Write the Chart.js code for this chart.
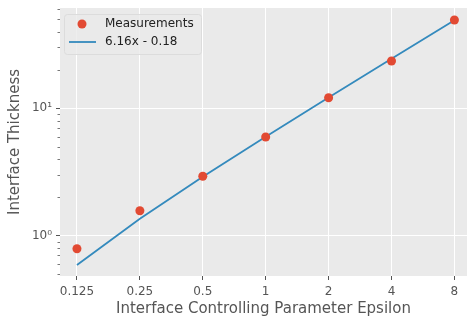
<!DOCTYPE html>
<html>
<head>
<meta charset="utf-8">
<script src="https://cdn.jsdelivr.net/npm/chart.js@4/dist/chart.umd.min.js"></script>
<style>
  html, body { margin: 0; padding: 0; background: #fff; }
  #wrap { width: 467px; height: 321px; }
</style>
</head>
<body>
<div id="wrap"><canvas id="c" width="467" height="321"></canvas></div>
<script>
// Epsilon values (x) and measured interface thickness (y)
const epsilon = [0.125, 0.25, 0.5, 1, 2, 4, 8];
const thickness = [0.79, 1.57, 2.93, 5.95, 12.1, 23.5, 49.3];
// Linear fit 6.16x - 0.18 evaluated at each epsilon
const fitValues = [0.59, 1.36, 2.90, 5.98, 12.14, 24.46, 49.10];
const fitLabel = '6.16x - 0.18';
const xTickValues = [0.125, 0.25, 0.5, 1, 2, 4, 8];
const xTickLabels = ['0.125', '0.25', '0.5', '1', '2', '4', '8'];
const yMajorValues = [1, 10];
const yMajorLabels = ['10\u2070', '10\u00b9'];
const yMinorValues = [0.5, 0.6, 0.7, 0.8, 0.9, 2, 3, 4, 5, 6, 7, 8, 9, 20, 30, 40, 50, 60];

const RED = '#E24A33';
const BLUE = '#348ABD';
const FONT = 'DejaVu Sans';

const panelBg = {
  id: 'panelBg',
  beforeDraw(chart) {
    const { ctx, chartArea: a } = chart;
    ctx.save();
    ctx.fillStyle = '#EAEAEA';
    ctx.fillRect(a.left, a.top, a.right - a.left, a.bottom - a.top);
    ctx.restore();
  }
};

// short minor tick marks on the log y axis
const minorTicks = {
  id: 'minorTicks',
  afterDraw(chart) {
    const { ctx, chartArea: a } = chart;
    const y = chart.scales.y;
    ctx.save();
    ctx.strokeStyle = '#555';
    ctx.lineWidth = 0.8;
    yMinorValues.forEach(v => {
      const p = Math.round(y.getPixelForValue(v)) + 0.5;
      if (p < a.top || p > a.bottom) return;
      ctx.beginPath();
      ctx.moveTo(a.left - 2.5, p);
      ctx.lineTo(a.left, p);
      ctx.stroke();
    });
    ctx.restore();
  }
};

const boxLegend = {
  id: 'boxLegend',
  afterDraw(chart) {
    const { ctx, chartArea: a } = chart;
    const x0 = a.left + 4, y0 = a.top + 6, w = 137, h = 40;
    ctx.save();
    ctx.fillStyle = 'rgba(234,234,234,0.8)';
    ctx.strokeStyle = '#DCDCDC';
    ctx.lineWidth = 1;
    ctx.beginPath();
    ctx.roundRect(x0 + 0.5, y0 + 0.5, w, h, 3);
    ctx.fill();
    ctx.stroke();
    // marker entry
    ctx.fillStyle = RED;
    ctx.beginPath();
    ctx.arc(x0 + 18, y0 + 10, 4.5, 0, Math.PI * 2);
    ctx.fill();
    // line entry
    ctx.strokeStyle = BLUE;
    ctx.lineWidth = 1.8;
    ctx.beginPath();
    ctx.moveTo(x0 + 5, y0 + 28);
    ctx.lineTo(x0 + 32, y0 + 28);
    ctx.stroke();
    ctx.fillStyle = '#222';
    ctx.font = '12px "' + FONT + '"';
    ctx.textBaseline = 'middle';
    ctx.fillText(chart.data.datasets[0].label, x0 + 41, y0 + 10);
    ctx.fillText(chart.data.datasets[1].label, x0 + 41, y0 + 28);
    ctx.restore();
  }
};

new Chart(document.getElementById('c'), {
  type: 'scatter',
  data: {
    datasets: [
      {
        label: 'Measurements',
        data: epsilon.map((x, i) => ({ x, y: thickness[i] })),
        backgroundColor: RED,
        borderColor: RED,
        pointRadius: 4.5,
        pointHoverRadius: 4.5,
        borderWidth: 0,
        clip: false,
        order: 0
      },
      {
        label: fitLabel,
        type: 'line',
        data: epsilon.map((x, i) => ({ x, y: fitValues[i] })),
        borderColor: BLUE,
        borderWidth: 1.8,
        pointRadius: 0,
        fill: false,
        tension: 0,
        order: 1
      }
    ]
  },
  plugins: [panelBg, minorTicks, boxLegend],
  options: {
    responsive: false,
    animation: false,
    layout: { autoPadding: false, padding: { top: 8, right: 0, left: 0, bottom: 0 } },
    plugins: { legend: { display: false }, tooltip: { enabled: false } },
    scales: {
      x: {
        type: 'logarithmic',
        min: 0.1037,
        max: 9.19,
        afterBuildTicks(scale) {
          scale.ticks = xTickValues.map(v => ({ value: v }));
        },
        afterFit(scale) {
          scale.height = 45;
          scale.paddingLeft = 0;
          scale.paddingRight = 0;
        },
        ticks: {
          autoSkip: false,
          maxRotation: 0,
          padding: 5,
          color: '#555',
          font: { family: FONT, size: 12 },
          callback: (v) => {
            const i = xTickValues.indexOf(v);
            return i >= 0 ? xTickLabels[i] : '';
          }
        },
        grid: { color: '#FFFFFF', lineWidth: 1, tickColor: '#555', tickLength: 4 },
        border: { display: false },
        title: {
          display: true,
          text: 'Interface Controlling Parameter Epsilon',
          color: '#555',
          font: { family: FONT, size: 15 },
          padding: { top: 0, bottom: 3 }
        }
      },
      y: {
        type: 'logarithmic',
        min: 0.483,
        max: 61.2,
        afterBuildTicks(scale) {
          scale.ticks = yMajorValues.map(v => ({ value: v, major: true }));
        },
        afterFit(scale) {
          scale.width = 60;
          scale.paddingTop = 0;
          scale.paddingBottom = 0;
        },
        ticks: {
          autoSkip: false,
          padding: 4,
          color: '#555',
          font: { family: FONT, size: 12 },
          callback: (v) => {
            const i = yMajorValues.indexOf(v);
            return i >= 0 ? yMajorLabels[i] : '';
          }
        },
        grid: { color: '#FFFFFF', tickColor: '#555', lineWidth: 1, tickLength: 4 },
        border: { display: false },
        title: {
          display: true,
          text: 'Interface Thickness',
          color: '#555',
          font: { family: FONT, size: 15 },
          padding: { top: 6, bottom: 0 }
        }
      }
    }
  }
});
</script>
</body>
</html>
